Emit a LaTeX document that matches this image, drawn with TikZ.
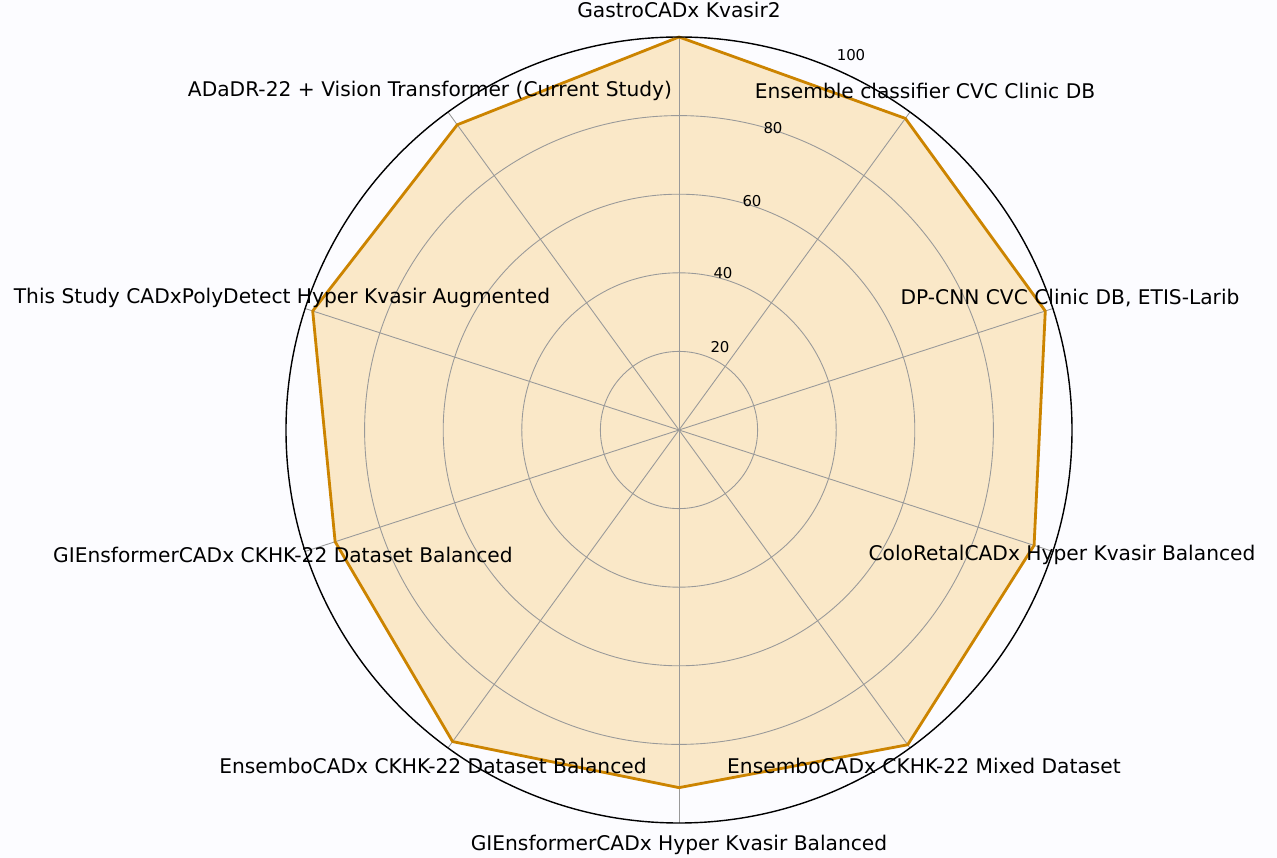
\documentclass[tikz,border=0pt]{standalone}
\usepackage{fontspec}
\setmainfont{DejaVu Sans}
\usetikzlibrary{calc}
\definecolor{radarfill}{HTML}{FAE8C8}
\definecolor{radarline}{HTML}{CC8400}

\begin{document}
\begin{tikzpicture}[x=0.02cm,y=0.02cm,
    ring/.style={draw=gray!80,line width=0.5pt},
    spoke/.style={draw=gray!80,line width=0.5pt},
    axislabel/.style={font=\fontsize{11.5}{13}\selectfont,inner sep=1pt},
    ticklabel/.style={font=\fontsize{8.5}{10}\selectfont,inner sep=1pt}]
    \useasboundingbox[fill=blue!1] (-679,-428) rectangle (598,430);
    \newcommand{\R}{393}
    % radar values, clockwise from the top
    \foreach \v [count=\i] in {100,98,98,95,99,91,98,92,98,96}
    {
      \pgfmathsetmacro{\ang}{90-36*(\i-1)}
      \coordinate (p\i) at (\ang:\v*3.93);
    }
    \fill[radarfill] (p1) \foreach \i in {2,...,10}{ -- (p\i)} -- cycle;
    \foreach \r in {20,40,60,80}
    {
      \draw[ring] (0,0) circle (\r*3.93);
    }
    \foreach \i in {1,...,10}
    {
      \draw[spoke] (0,0) -- (90-36*\i+36:\R);
    }
    \draw[radarline,line width=1.6pt,line join=round] (p1) \foreach \i in {2,...,10}{ -- (p\i)} -- cycle;
    \draw[black,line width=0.8pt] (0,0) circle (\R);
    % tick labels
    \node[ticklabel] (t20) at (41,83) {20};
    \node[ticklabel] (t40) at (44,157) {40};
    \node[ticklabel] (t60) at (73,229) {60};
    \node[ticklabel] (t80) at (94,302) {80};
    \node[ticklabel] (t100) at (172,375) {100};
    % axis labels
    \node[axislabel] (gastro) at (0,420) {GastroCADx Kvasir2};
    \node[axislabel] (ensemble) at (246,339) {Ensemble classifier CVC Clinic DB};
    \node[axislabel] (dpcnn) at (391,132) {DP-CNN CVC Clinic DB, ETIS-Larib};
    \node[axislabel] (coloretal) at (383,-125) {ColoRetalCADx Hyper Kvasir Balanced};
    \node[axislabel] (mixed) at (245,-336) {EnsemboCADx CKHK-22 Mixed Dataset};
    \node[axislabel] (hyper) at (0,-415) {GIEnsformerCADx Hyper Kvasir Balanced};
    \node[axislabel] (balanced) at (-246,-336) {EnsemboCADx CKHK-22 Dataset Balanced};
    \node[axislabel] (ckhk) at (-396,-125) {GIEnsformerCADx CKHK-22 Dataset Balanced};
    \node[axislabel] (thisstudy) at (-397,132) {This Study CADxPolyDetect Hyper Kvasir Augmented};
    \node[axislabel] (adadr) at (-249,339) {ADaDR-22 + Vision Transformer (Current Study)};
\end{tikzpicture}
\end{document}
